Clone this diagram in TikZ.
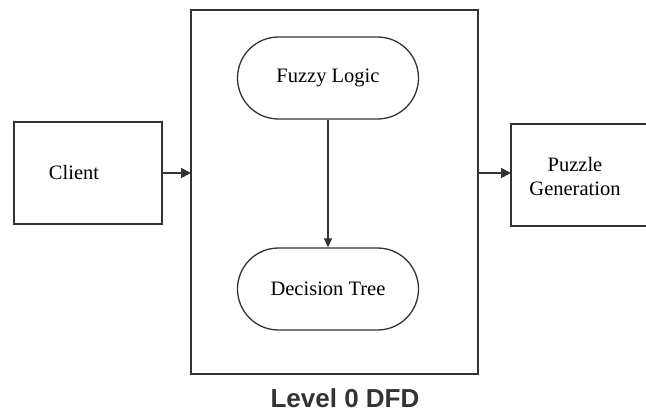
\documentclass[tikz,border=0pt]{standalone}
\usepackage{fontspec}
\setmainfont{Liberation Serif}
\newfontfamily\labelfont{Liberation Sans}
\usetikzlibrary{arrows.meta,shapes.misc}
\definecolor{ink}{HTML}{333333}
\tikzset{
  procbox/.style={draw=ink, line width=1.8pt, fill=none},
  stadium/.style={draw=ink, line width=1.3pt, rounded rectangle, minimum width=181pt, minimum height=82pt, inner sep=0pt, font=\fontsize{20.5}{24}\selectfont},
  boxtext/.style={font=\fontsize{20.5}{24}\selectfont, align=center, inner sep=0pt},
  flow/.style={draw=ink, line width=1.8pt, -{Triangle[length=10pt,width=10pt]}},
  innerflow/.style={draw=ink, line width=1.3pt, -{Triangle[length=9pt,width=8pt]}}
}
\begin{document}
\begin{tikzpicture}[x=1pt,y=-1pt]
  \useasboundingbox (0,0) rectangle (646,412);
  \fill[white] (0,0) rectangle (646,412);
  % external entities and the system boundary
  \draw[procbox] (14,122) rectangle (162,224);
  \node[boxtext] (client) at (74,172) {Client};
  \coordinate (clientR) at (162,173);
  \draw[procbox] (191,10) rectangle (478,374);
  \coordinate (sysL) at (191,173);
  \coordinate (sysR) at (478,173);
  \begin{scope}
    \clip (0,0) rectangle (646,412);
    \draw[procbox] (511,124) rectangle (650,226);
  \end{scope}
  \node[boxtext] (puzzle) at (575,176) {Puzzle\\Generation};
  \coordinate (puzzleL) at (511,173);
  % processes inside the system
  \node[stadium] (fuzzy) at (328,78) {Fuzzy Logic};
  \node[stadium] (tree) at (328,289) {Decision Tree};
  % data flows
  \draw[flow] (clientR) -- (sysL);
  \draw[flow] (sysR) -- (puzzleL);
  \draw[innerflow] (fuzzy.south) -- (tree.north);
  % caption
  \node[font=\labelfont\bfseries\fontsize{26}{30}\selectfont, text=ink] (caption) at (345,398) {Level 0 DFD};
\end{tikzpicture}
\end{document}
